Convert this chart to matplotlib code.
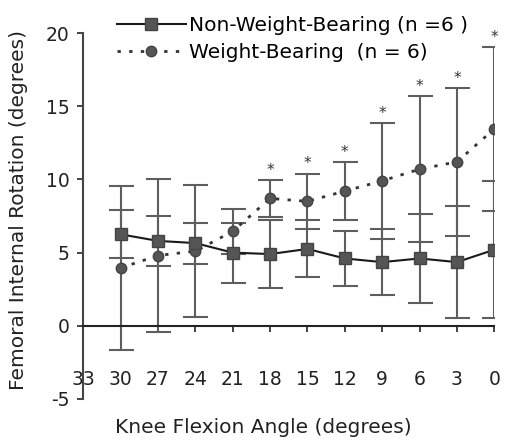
import numpy as np
import matplotlib
matplotlib.use("Agg")
import matplotlib.pyplot as plt

plt.rcParams['font.family'] = ['DejaVu Sans']
plt.rcParams['axes.unicode_minus'] = False

# knee flexion angle (degrees), from 30 down to full extension
angles = [30, 27, 24, 21, 18, 15, 12, 9, 6, 3, 0]

# non-weight-bearing: mean and SD
nwb_mean = [6.25, 5.8, 5.65, 5.0, 4.9, 5.25, 4.6, 4.35, 4.6, 4.35, 5.2]
nwb_sd = [1.65, 1.7, 1.4, 2.05, 2.35, 1.95, 1.9, 2.25, 3.05, 3.8, 4.7]

# weight-bearing: mean and SD
wb_mean = [3.95, 4.8, 5.1, 6.45, 8.7, 8.5, 9.2, 9.9, 10.7, 11.2, 13.45]
wb_sd = [5.6, 5.25, 4.5, 1.55, 1.25, 1.9, 2.0, 3.95, 5.0, 5.05, 5.6]

# significant difference between conditions
significant = [False, False, False, False, True, True, True, True, True, True, True]

x_ticks = [33, 30, 27, 24, 21, 18, 15, 12, 9, 6, 3, 0]
y_ticks = [-5, 0, 5, 10, 15, 20]

fig = plt.figure(figsize=(5.07, 4.48), dpi=100)
ax = fig.add_axes([0.164, 0.1094, 0.811, 0.8169])

bar_color = '#5e5e5e'
ax.errorbar(angles, nwb_mean, yerr=nwb_sd, fmt='none', ecolor=bar_color,
            elinewidth=1.5, capsize=9, capthick=1.5, zorder=2)
ax.errorbar(angles, wb_mean, yerr=wb_sd, fmt='none', ecolor=bar_color,
            elinewidth=1.5, capsize=9, capthick=1.5, zorder=2)

ax.plot(angles, nwb_mean, color='#1a1a1a', linewidth=1.5, marker='s',
        markersize=8, markerfacecolor='#555555', markeredgecolor='#444444',
        label='Non-Weight-Bearing (n =6 )', zorder=4)
ax.plot(angles, wb_mean, color='#333333', linewidth=2, dashes=(1.2, 3),
        marker='o', markersize=7.5, markerfacecolor='#555555',
        markeredgecolor='#444444', label='Weight-Bearing  (n = 6)', zorder=3)

# asterisks above significant points
for a, m, s, sig in zip(angles, wb_mean, wb_sd, significant):
    if sig:
        ax.text(a, m + s + 0.15, '*', ha='center', va='bottom', fontsize=11,
                color='#333333')

ax.set_xlim(33, 0)
ax.set_ylim(-5, 20)
ax.set_xticks(x_ticks)
ax.set_yticks(y_ticks)

ax.spines['top'].set_visible(False)
ax.spines['right'].set_visible(False)
ax.spines['bottom'].set_position(('data', 0))
ax.spines['bottom'].set_linewidth(1.5)
ax.spines['left'].set_linewidth(1.5)
ax.spines['bottom'].set_color('#222222')
ax.spines['left'].set_color('#444444')

ax.tick_params(axis='x', direction='out', length=4, width=1.2, pad=28,
               labelsize=13.5, colors='#222222')
ax.tick_params(axis='y', direction='out', length=4, width=1.2, pad=6,
               labelsize=13.5, colors='#222222')

fig.text(0.036, 0.531, 'Femoral Internal Rotation (degrees)', rotation=90,
         ha='center', va='center', fontsize=14.5, color='#222222')
fig.text(0.519, 0.045, 'Knee Flexion Angle (degrees)', ha='center',
         va='center', fontsize=14.5, color='#222222')

fig.legend(loc='upper left', bbox_to_anchor=(0.231, 0.965), frameon=False,
           fontsize=14.5, handlelength=3.4, handletextpad=0.15, borderpad=0,
           borderaxespad=0, labelspacing=0.4, numpoints=1)

fig.savefig('out.png', dpi=100)
